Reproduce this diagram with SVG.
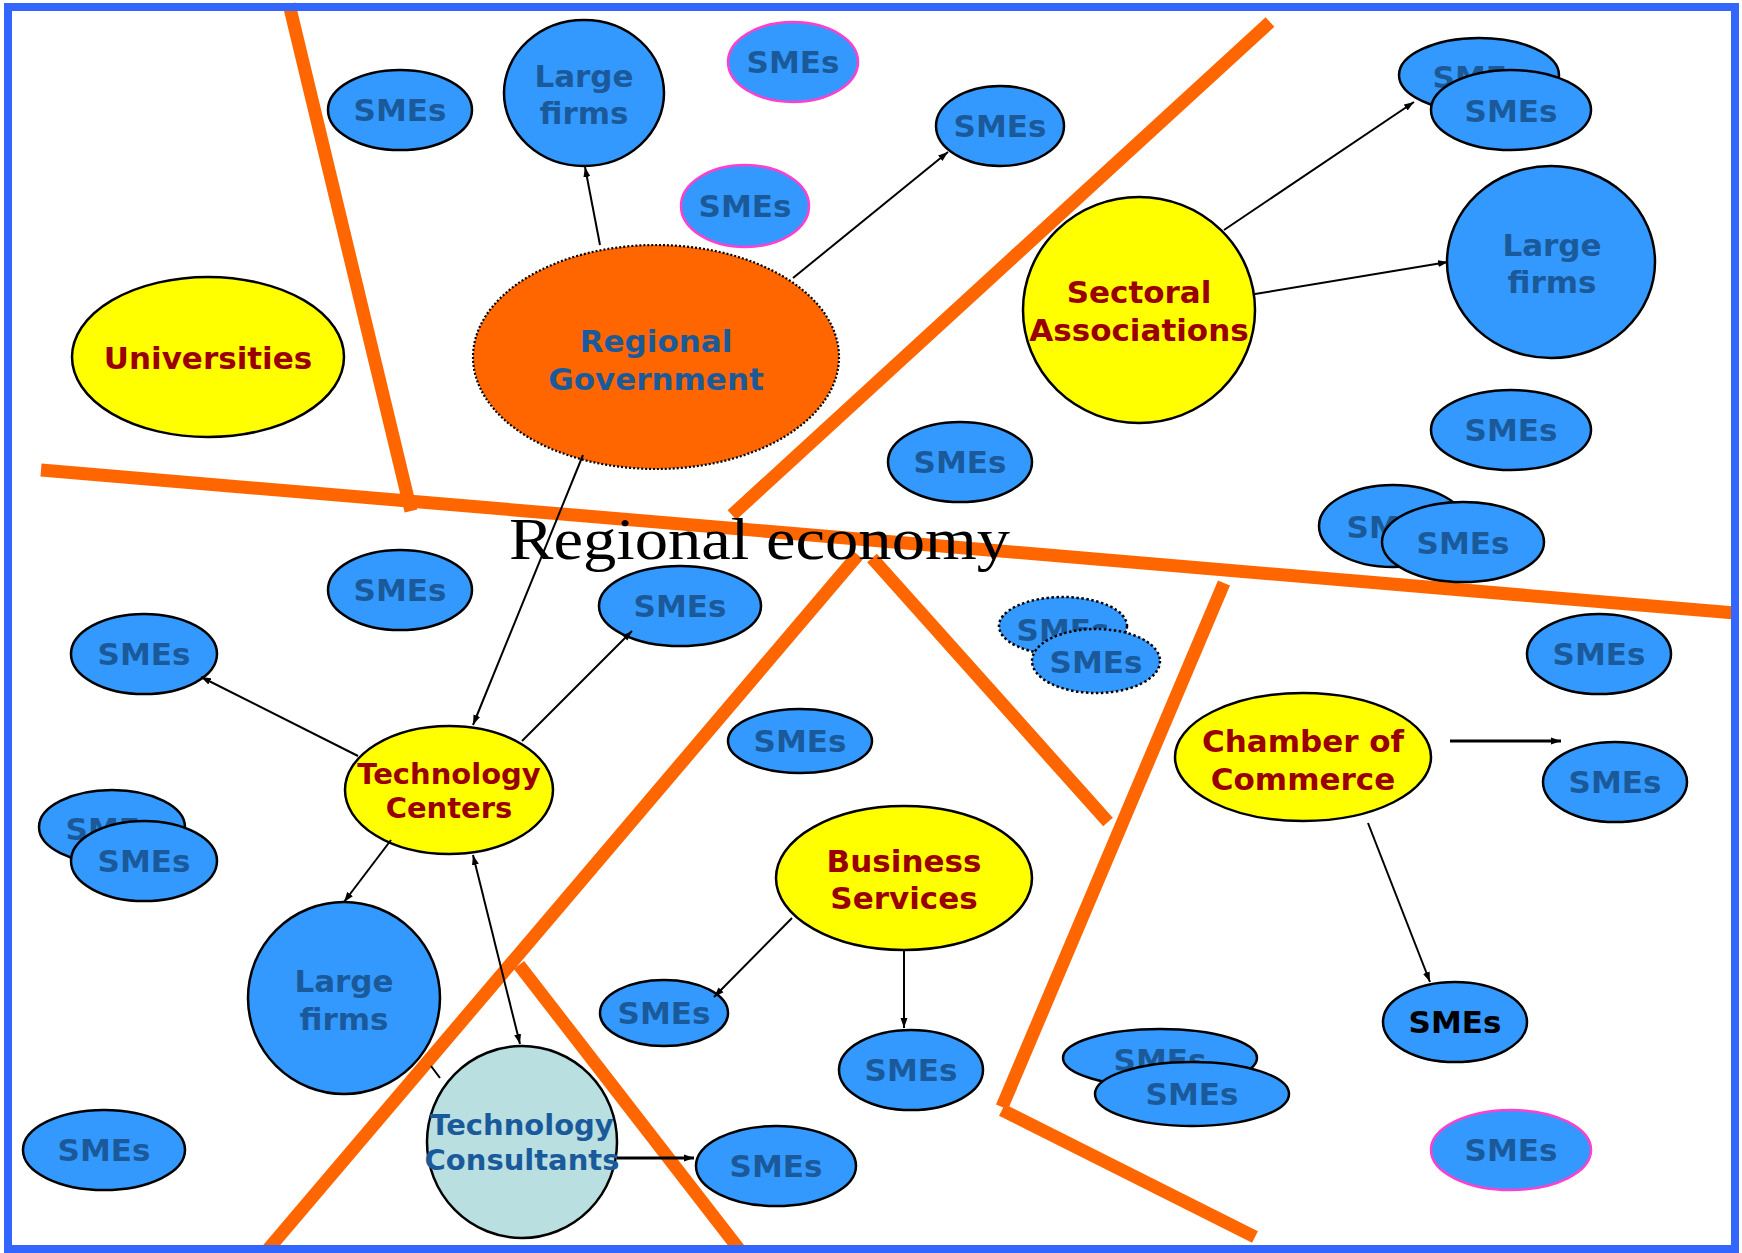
<svg xmlns="http://www.w3.org/2000/svg" width="1742" height="1253" viewBox="0 0 1742 1253">
<defs>
<marker id="ah" markerUnits="userSpaceOnUse" markerWidth="11" markerHeight="8" refX="10" refY="4" orient="auto-start-reverse"><path d="M0,0.5 L10,4 L0,7.5 z" fill="#000"/></marker>
<style>
.bar{stroke:#FF6600;stroke-width:13;fill:none}
.sme{fill:#3399FF;stroke:#000;stroke-width:2.5}
.pink{fill:#3399FF;stroke:#FF3FCF;stroke-width:2.5}
.dot{fill:#3399FF;stroke:#000;stroke-width:2.5;stroke-dasharray:2.5 2.5}
.yel{fill:#FFFF00;stroke:#000;stroke-width:2.5}
.t{font-family:'DejaVu Sans',Verdana,sans-serif;font-weight:bold;font-size:31px;text-anchor:middle;fill:#1B5A9A}
.r{fill:#990000}
.k{fill:#000}
.s29{font-size:29px}
.c{stroke:#000;stroke-width:2;fill:none}
.c3{stroke:#000;stroke-width:3;fill:none}
</style>
</defs>
<rect x="0" y="0" width="1742" height="1253" fill="#fff"/>
<g id="divider-lines">
<line class="bar" x1="289" y1="4" x2="411" y2="511"/>
<line class="bar" x1="41" y1="470" x2="1735" y2="613"/>
<line class="bar" x1="732" y1="515" x2="1270" y2="22"/>
<line class="bar" x1="858" y1="555" x2="265" y2="1253"/>
<line class="bar" x1="872" y1="558" x2="1108" y2="822"/>
<line class="bar" x1="1224" y1="583" x2="1002" y2="1107"/>
<line class="bar" x1="1002" y1="1110" x2="1255" y2="1237"/>
<line class="bar" x1="519" y1="965" x2="742" y2="1253"/>
</g>
<text x="509" y="559" font-family="'Liberation Serif','Times New Roman',serif" font-size="60" textLength="501" lengthAdjust="spacingAndGlyphs" fill="#000">Regional economy</text>

<g id="universities"><ellipse class="yel" cx="208" cy="357" rx="136" ry="80"/><text class="t r" x="208" y="369">Universities</text></g>
<g id="regional-government"><ellipse cx="656" cy="357" rx="183" ry="112" fill="#FF6600" stroke="#000" stroke-width="2.2" stroke-dasharray="2 2"/><text class="t" x="656" y="352">Regional</text><text class="t" x="656" y="390">Government</text></g>
<g id="large-firms-top"><ellipse class="sme" cx="584" cy="93" rx="80" ry="73"/><text class="t" x="584" y="87">Large</text><text class="t" x="584" y="124">firms</text></g>
<g id="smes-a"><ellipse class="sme" cx="400" cy="110" rx="72" ry="40"/><text class="t" x="400" y="121">SMEs</text></g>
<g id="smes-b"><ellipse class="pink" cx="793" cy="62" rx="65" ry="40"/><text class="t" x="793" y="73">SMEs</text></g>
<g id="smes-c"><ellipse class="pink" cx="745" cy="206" rx="64" ry="41"/><text class="t" x="745" y="217">SMEs</text></g>
<g id="smes-d"><ellipse class="sme" cx="1000" cy="126" rx="64" ry="40"/><text class="t" x="1000" y="137">SMEs</text></g>
<g id="sectoral-associations"><ellipse class="yel" cx="1139" cy="310" rx="116" ry="113"/><text class="t r" x="1139" y="303">Sectoral</text><text class="t r" x="1139" y="341">Associations</text></g>
<g id="smes-e-back"><ellipse class="sme" cx="1479" cy="75" rx="80" ry="37"/><text class="t" x="1479" y="88">SMEs</text></g>
<g id="smes-e-front"><ellipse class="sme" cx="1511" cy="110" rx="80" ry="40"/><text class="t" x="1511" y="122">SMEs</text></g>
<g id="large-firms-right"><ellipse class="sme" cx="1551" cy="262" rx="104" ry="96"/><text class="t" x="1552" y="256">Large</text><text class="t" x="1552" y="293">firms</text></g>
<g id="smes-f"><ellipse class="sme" cx="1511" cy="430" rx="80" ry="40"/><text class="t" x="1511" y="441">SMEs</text></g>
<g id="smes-g"><ellipse class="sme" cx="960" cy="462" rx="72" ry="40"/><text class="t" x="960" y="473">SMEs</text></g>
<g id="smes-h-back"><ellipse class="sme" cx="1393" cy="526" rx="74" ry="41"/><text class="t" x="1393" y="538">SMEs</text></g>
<g id="smes-h-front"><ellipse class="sme" cx="1463" cy="542" rx="81" ry="40"/><text class="t" x="1463" y="554">SMEs</text></g>
<g id="smes-i"><ellipse class="sme" cx="1599" cy="654" rx="72" ry="40"/><text class="t" x="1599" y="665">SMEs</text></g>
<g id="smes-j-back"><ellipse class="dot" cx="1063" cy="626" rx="64" ry="29"/><text class="t" x="1063" y="641">SMEs</text></g>
<g id="smes-j-front"><ellipse class="dot" cx="1096" cy="661" rx="64" ry="32"/><text class="t" x="1096" y="673">SMEs</text></g>
<g id="chamber-of-commerce"><ellipse class="yel" cx="1303" cy="757" rx="128" ry="64"/><text class="t r" x="1303" y="752">Chamber of</text><text class="t r" x="1303" y="790">Commerce</text></g>
<g id="smes-k"><ellipse class="sme" cx="1615" cy="782" rx="72" ry="40"/><text class="t" x="1615" y="793">SMEs</text></g>
<g id="smes-l"><ellipse class="sme" cx="1455" cy="1022" rx="72" ry="40"/><text class="t k" x="1455" y="1033">SMEs</text></g>
<g id="smes-m"><ellipse class="pink" cx="1511" cy="1150" rx="80" ry="40"/><text class="t" x="1511" y="1161">SMEs</text></g>
<g id="smes-n-back"><ellipse class="sme" cx="1160" cy="1058" rx="97" ry="29"/><text class="t" x="1160" y="1071">SMEs</text></g>
<g id="smes-n-front"><ellipse class="sme" cx="1192" cy="1094" rx="97" ry="32"/><text class="t" x="1192" y="1105">SMEs</text></g>
<g id="business-services"><ellipse class="yel" cx="904" cy="878" rx="128" ry="72"/><text class="t r" x="904" y="872">Business</text><text class="t r" x="904" y="909">Services</text></g>
<g id="smes-o"><ellipse class="sme" cx="911" cy="1070" rx="72" ry="40"/><text class="t" x="911" y="1081">SMEs</text></g>
<g id="smes-p"><ellipse class="sme" cx="664" cy="1013" rx="64" ry="33"/><text class="t" x="664" y="1024">SMEs</text></g>
<g id="technology-consultants"><ellipse cx="522" cy="1142" rx="95" ry="96" fill="#B9DFE1" stroke="#000" stroke-width="2.5"/><text class="t s29" x="522" y="1135">Technology</text><text class="t s29" x="522" y="1170">Consultants</text></g>
<g id="smes-q"><ellipse class="sme" cx="776" cy="1166" rx="80" ry="40"/><text class="t" x="776" y="1177">SMEs</text></g>
<g id="smes-r"><ellipse class="sme" cx="104" cy="1150" rx="81" ry="40"/><text class="t" x="104" y="1161">SMEs</text></g>
<g id="large-firms-left"><ellipse class="sme" cx="344" cy="998" rx="96" ry="96"/><text class="t" x="344" y="992">Large</text><text class="t" x="344" y="1030">firms</text></g>
<g id="technology-centers"><ellipse class="yel" cx="449" cy="790" rx="104" ry="64"/><text class="t r s29" x="449" y="784">Technology</text><text class="t r s29" x="449" y="818">Centers</text></g>
<g id="smes-s-back"><ellipse class="sme" cx="112" cy="827" rx="73" ry="37"/><text class="t" x="112" y="840">SMEs</text></g>
<g id="smes-s-front"><ellipse class="sme" cx="144" cy="861" rx="73" ry="40"/><text class="t" x="144" y="872">SMEs</text></g>
<g id="smes-t"><ellipse class="sme" cx="144" cy="654" rx="73" ry="40"/><text class="t" x="144" y="665">SMEs</text></g>
<g id="smes-u"><ellipse class="sme" cx="400" cy="590" rx="72" ry="40"/><text class="t" x="400" y="601">SMEs</text></g>
<g id="smes-v"><ellipse class="sme" cx="680" cy="606" rx="81" ry="40"/><text class="t" x="680" y="617">SMEs</text></g>
<g id="smes-w"><ellipse class="sme" cx="800" cy="741" rx="72" ry="32"/><text class="t" x="800" y="752">SMEs</text></g>

<g id="connectors">
<line class="c" x1="600" y1="245" x2="585" y2="167" marker-end="url(#ah)"/>
<line class="c" x1="793" y1="278" x2="948" y2="152" marker-end="url(#ah)"/>
<line class="c" x1="583" y1="455" x2="473" y2="725" marker-end="url(#ah)"/>
<line class="c" x1="358" y1="756" x2="201" y2="677" marker-end="url(#ah)"/>
<line class="c" x1="522" y1="741" x2="632" y2="631" marker-end="url(#ah)"/>
<line class="c" x1="391" y1="840" x2="344" y2="902" marker-end="url(#ah)"/>
<line class="c" x1="473" y1="855" x2="520" y2="1044" marker-start="url(#ah)" marker-end="url(#ah)"/>
<line class="c3" x1="617" y1="1158" x2="694" y2="1158" marker-end="url(#ah)"/>
<line class="c" x1="1224" y1="230" x2="1414" y2="102" marker-end="url(#ah)"/>
<line class="c" x1="1255" y1="294" x2="1448" y2="262" stroke-width="2.5" marker-end="url(#ah)"/>
<line class="c3" x1="1450" y1="741" x2="1561" y2="741" marker-end="url(#ah)"/>
<line class="c" x1="1368" y1="823" x2="1430" y2="982" marker-end="url(#ah)"/>
<line class="c" x1="904" y1="950" x2="904" y2="1028" marker-end="url(#ah)"/>
<line class="c" x1="792" y1="918" x2="714" y2="997" marker-end="url(#ah)"/>
<line class="c" x1="431" y1="1066" x2="440" y2="1078"/>
</g>
<rect x="8" y="7" width="1727" height="1242" fill="none" stroke="#3366FF" stroke-width="8"/>
</svg>
